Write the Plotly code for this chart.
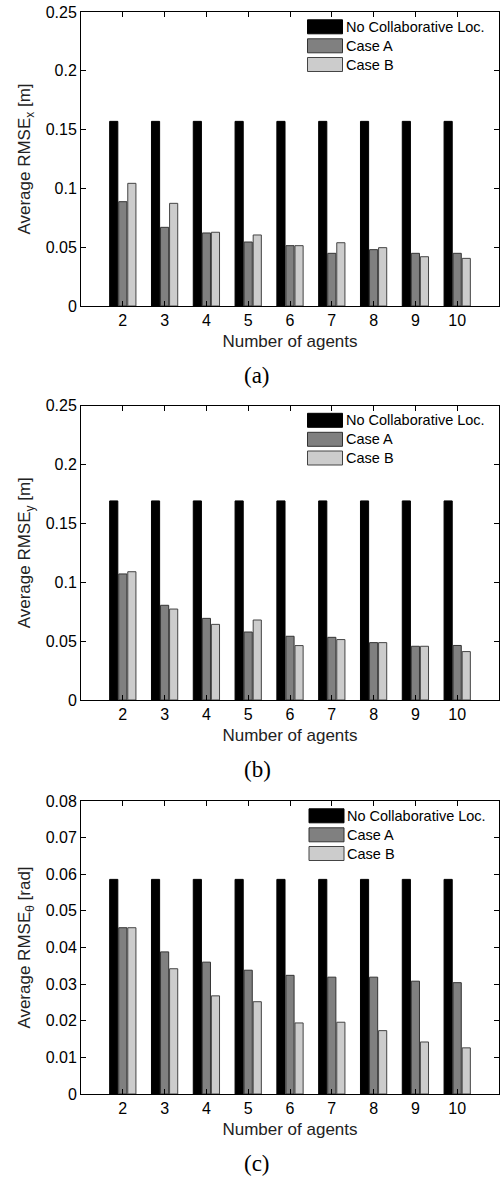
import plotly.graph_objects as go
from plotly.subplots import make_subplots

agents = [2, 3, 4, 5, 6, 7, 8, 9, 10]
series_names = ["No Collaborative Loc.", "Case A", "Case B"]

# (a) RMSE x
rmse_x_none = [0.157] * 9
rmse_x_a = [0.0887, 0.0669, 0.0621, 0.0544, 0.0513, 0.0448, 0.0479, 0.0448, 0.0448]
rmse_x_b = [0.1043, 0.0873, 0.0627, 0.0604, 0.0513, 0.0538, 0.0496, 0.0419, 0.0405]

# (b) RMSE y
rmse_y_none = [0.169] * 9
rmse_y_a = [0.1070, 0.0804, 0.0693, 0.0577, 0.0541, 0.0532, 0.0487, 0.0456, 0.0463]
rmse_y_b = [0.1089, 0.0772, 0.0642, 0.0679, 0.0462, 0.0513, 0.0487, 0.0456, 0.0411]

# (c) RMSE theta
rmse_t_none = [0.0586] * 9
rmse_t_a = [0.0454, 0.0388, 0.0360, 0.0338, 0.0324, 0.0319, 0.0319, 0.0308, 0.0304]
rmse_t_b = [0.0454, 0.0342, 0.0268, 0.0252, 0.0194, 0.0196, 0.0173, 0.0142, 0.0126]

y_titles = ["Average RMSE<sub>x</sub> [m]", "Average RMSE<sub>y</sub> [m]",
            "Average RMSE<sub>θ</sub> [rad]"]
y_ranges = [[0, 0.25], [0, 0.25], [0, 0.08]]
y_dticks = [0.05, 0.05, 0.01]
captions = ["(a)", "(b)", "(c)"]
x_title = "Number of agents"

panels = [
    [rmse_x_none, rmse_x_a, rmse_x_b],
    [rmse_y_none, rmse_y_a, rmse_y_b],
    [rmse_t_none, rmse_t_a, rmse_t_b],
]

fill_colors = ["#000000", "#808080", "#cccccc"]
line_colors = ["#000000", "#333333", "#444444"]

W, H = 504, 1177
L, R, T, B = 81, 5, 12, 83
PW, PH = W - L - R, H - T - B


def fx(px):
    return (px - L) / PW


def fy(py):
    return (H - B - py) / PH


# pixel top/bottom of each panel
panel_px = [(12, 306), (405.5, 700), (801, 1094)]

fig = make_subplots(rows=3, cols=1)

for i, vals in enumerate(panels):
    for j, v in enumerate(vals):
        fig.add_trace(go.Bar(
            x=agents, y=v, name=series_names[j], showlegend=False,
            marker=dict(color=fill_colors[j], line=dict(color=line_colors[j], width=1)),
        ), row=i + 1, col=1)

font_main = "Liberation Sans, Arial, sans-serif"

for i in range(3):
    top, bot = panel_px[i]
    xa = "xaxis" if i == 0 else f"xaxis{i+1}"
    ya = "yaxis" if i == 0 else f"yaxis{i+1}"
    fig.layout[xa].update(
        domain=[0, 1], range=[1, 11], tickvals=agents,
        ticks="inside", ticklen=5, tickcolor="black", showline=True,
        linecolor="black", linewidth=1, mirror="ticks", showgrid=False,
        zeroline=False, tickfont=dict(size=16, color="black", family=font_main),
        title=dict(text=x_title, font=dict(size=17, color="#222", family=font_main),
                   standoff=6),
    )
    fig.layout[ya].update(
        domain=[fy(bot), fy(top)], range=y_ranges[i], dtick=y_dticks[i],
        tick0=0, ticks="inside", ticklen=5, tickcolor="black", showline=True,
        linecolor="black", linewidth=1, mirror="ticks", showgrid=False,
        zeroline=False, tickfont=dict(size=16, color="black", family=font_main),
        title=dict(text=y_titles[i], font=dict(size=17, color="#222", family=font_main),
                   standoff=10),
    )

    # caption
    fig.add_annotation(
        x=fx(257), y=fy(bot + 69), xref="paper", yref="paper",
        text=captions[i], showarrow=False, xanchor="center", yanchor="middle",
        font=dict(size=23, color="black", family="Liberation Serif, Times New Roman, serif"),
    )

    # legend (patches + labels)
    patch_x0 = 307.5 if i < 2 else 309
    offs = [7.8, 26.8, 45.5]
    for j in range(3):
        y0 = top + offs[j]
        y1 = y0 + 14
        fig.add_shape(
            type="rect", xref="paper", yref="paper",
            x0=fx(patch_x0), x1=fx(patch_x0 + 35), y0=fy(y1), y1=fy(y0),
            fillcolor=fill_colors[j], line=dict(color=line_colors[j], width=1),
        )
        fig.add_annotation(
            x=fx(patch_x0 + 36), y=fy((y0 + y1) / 2), xref="paper", yref="paper",
            text=series_names[j], showarrow=False, xanchor="left", yanchor="middle",
            font=dict(size=14.5, color="black", family=font_main),
        )

fig.update_layout(
    width=W, height=H, barmode="group", bargap=0.35, bargroupgap=0.1,
    margin=dict(l=L, r=R, t=T, b=B, autoexpand=False),
    plot_bgcolor="white", paper_bgcolor="white",
    font=dict(family=font_main, color="black"),
    showlegend=False,
)

fig.write_html(
    "out.html",
    config={"displayModeBar": False},
    post_script="document.body.style.margin='0';document.body.style.overflow='hidden';",
)
